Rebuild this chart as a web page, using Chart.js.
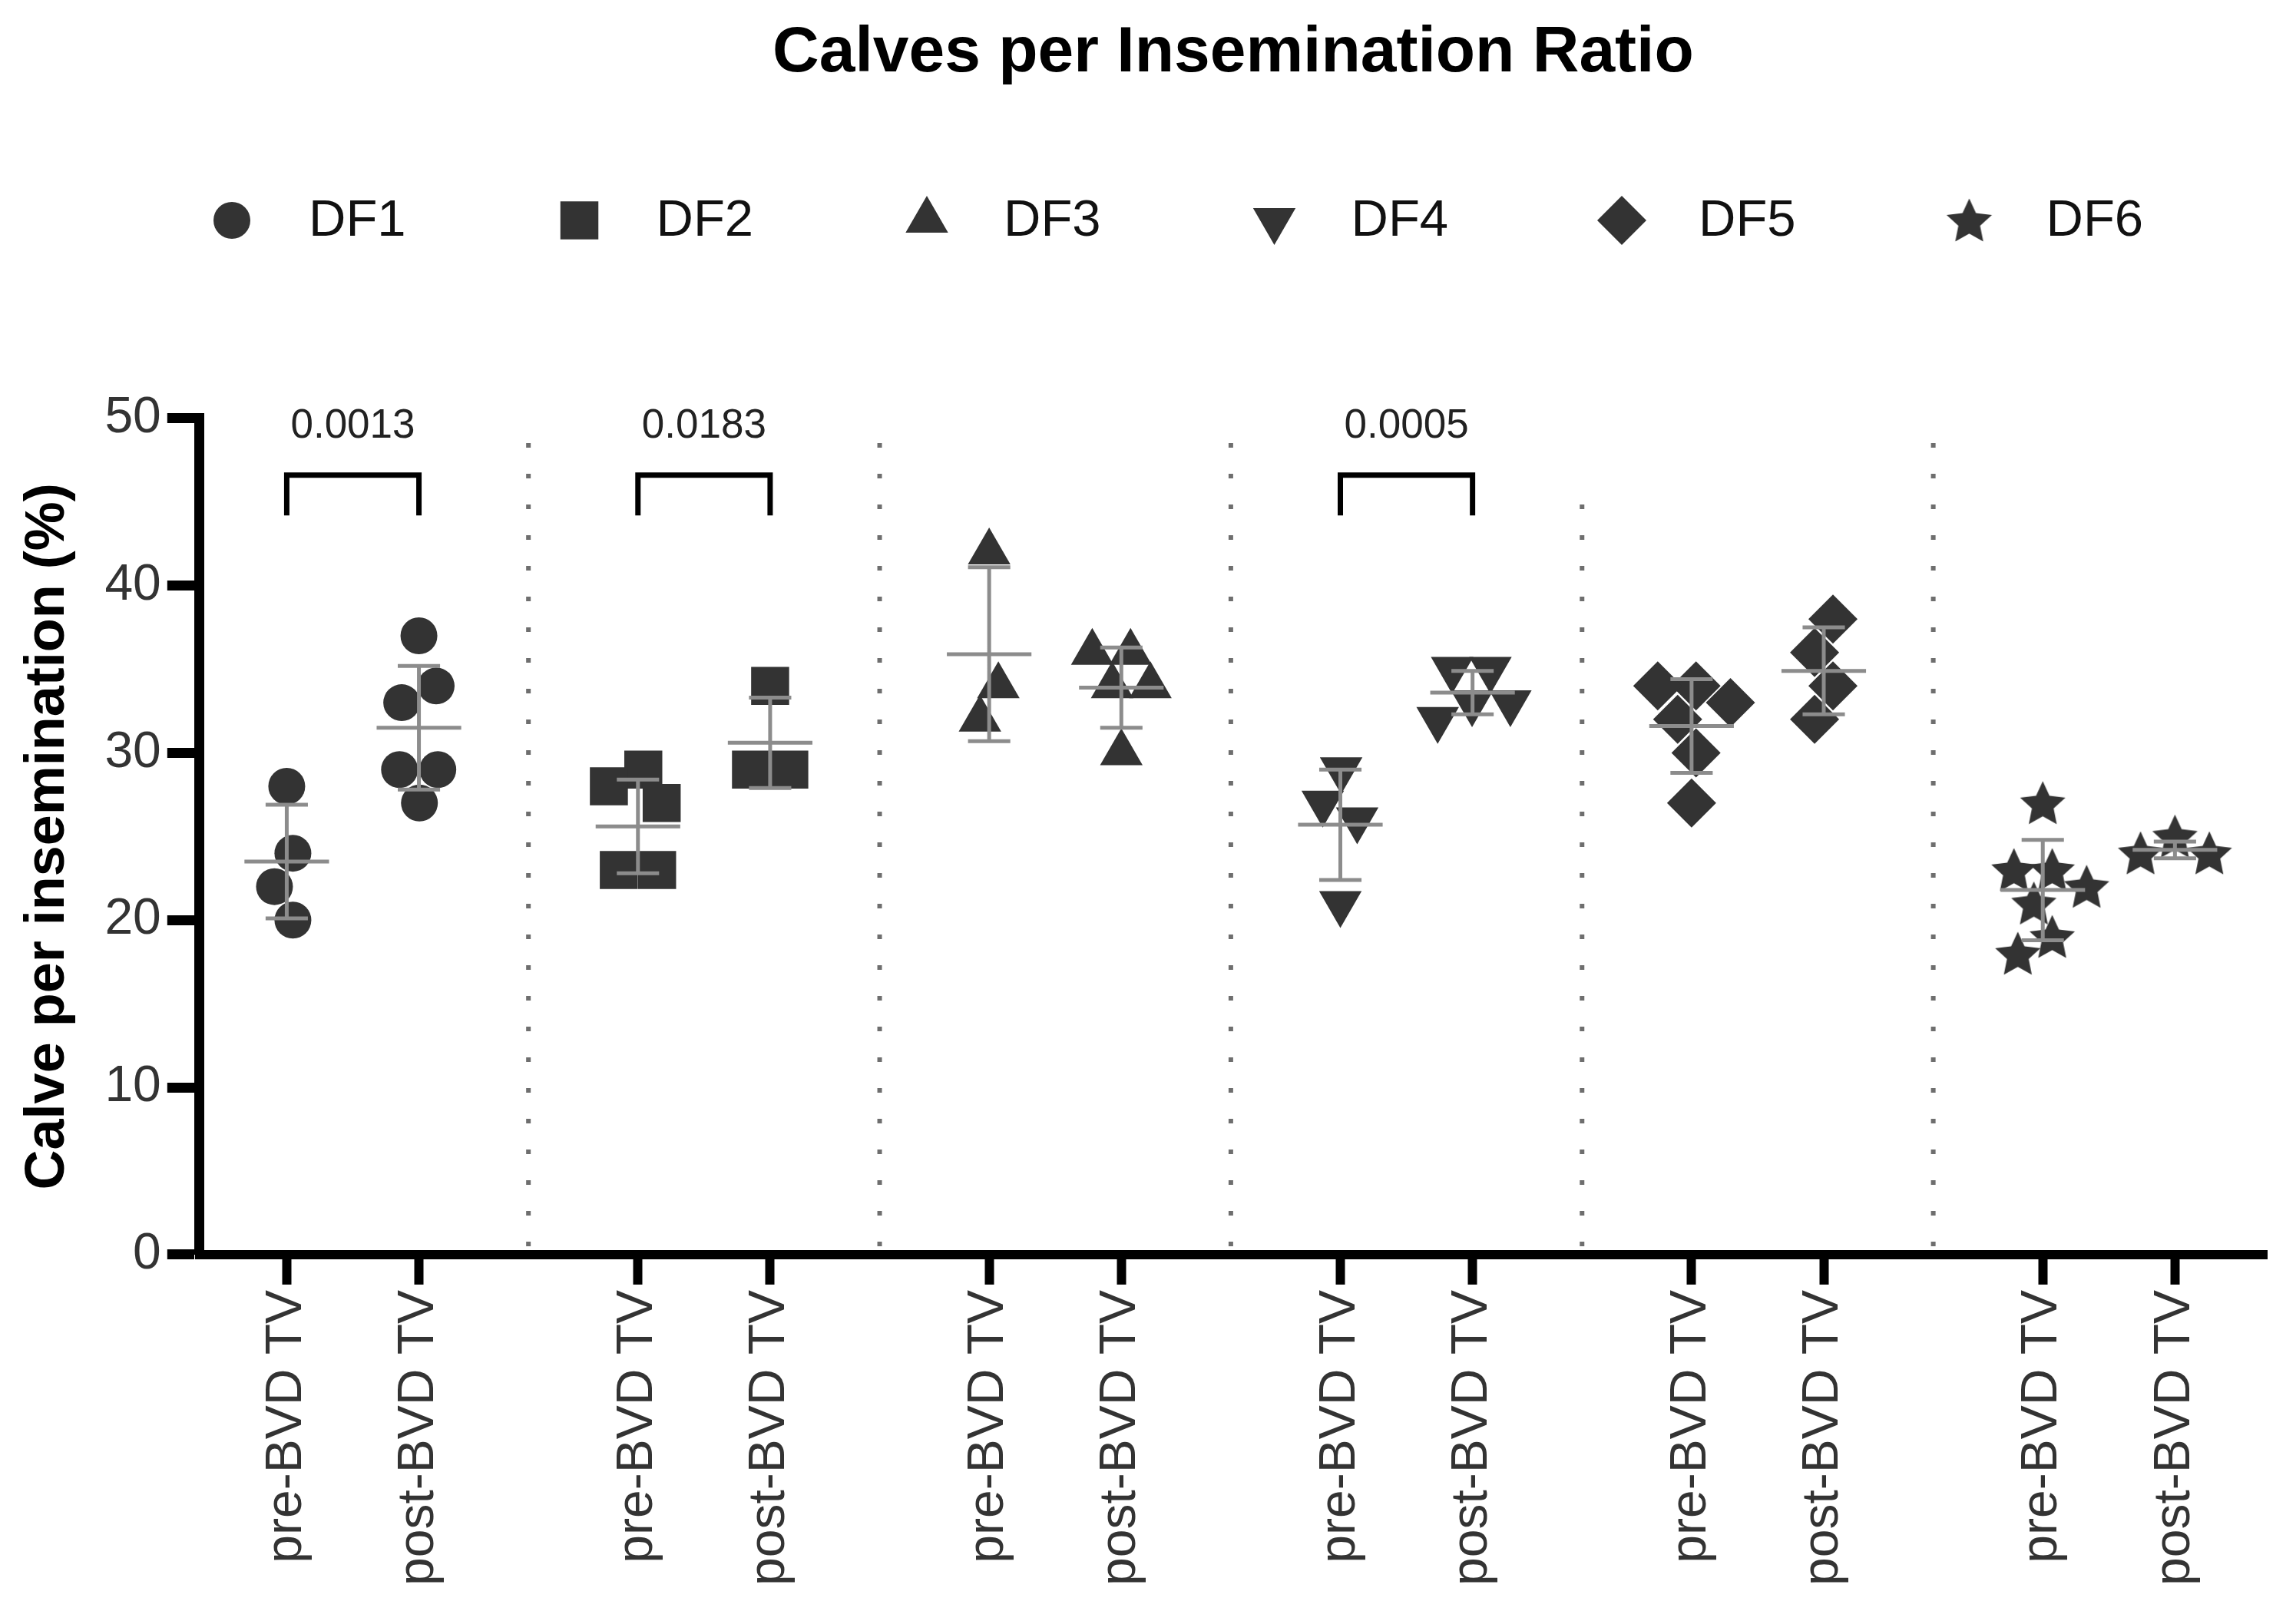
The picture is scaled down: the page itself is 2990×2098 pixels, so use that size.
<!DOCTYPE html>
<html>
<head>
<meta charset="utf-8">
<title>Calves per Insemination Ratio</title>
<script src="https://cdn.jsdelivr.net/npm/chart.js@4.4.1/dist/chart.umd.min.js"></script>
<style>
  html, body { margin: 0; padding: 0; background: #fff; }
  #wrap { width: 2990px; height: 2098px; }
</style>
</head>
<body>
<div id="wrap"><canvas id="chart"></canvas></div>
<script>
const farms = ["DF1", "DF2", "DF3", "DF4", "DF5", "DF6"];
const periods = ["pre-BVD TV", "post-BVD TV"];

// individual values (%)
const df1Pre = [28, 24, 22, 20];
const df1Post = [37, 34, 33, 29, 29, 27];
const df2Pre = [29, 28, 27, 23, 23];
const df2Post = [34, 29, 29];
const df3Pre = [42, 34, 32];
const df3Post = [36, 36, 34, 34, 30];
const df4Pre = [29, 27, 26, 21];
const df4Post = [35, 35, 33, 33, 32];
const df5Pre = [34, 34, 33, 32, 30, 27];
const df5Post = [38, 36, 34, 32];
const df6Pre = [27, 23, 23, 22, 21, 19, 18];
const df6Post = [25, 24, 24];

// mean and SD as drawn, one entry per farm
const meanPre = [23.5, 25.6, 35.9, 25.7, 31.6, 21.8];
const meanPost = [31.5, 30.6, 33.9, 33.6, 34.9, 24.2];
const sdPre = [3.4, 2.8, 5.2, 3.3, 2.8, 3.0];
const sdPost = [3.7, 2.7, 2.4, 1.3, 2.6, 0.5];

// significant pre/post comparisons
const pFarms = ["DF1", "DF2", "DF4"];
const pValues = ["0.0013", "0.0183", "0.0005"];

const yTicks = [0, 10, 20, 30, 40, 50];

const preValues = [df1Pre, df2Pre, df3Pre, df4Pre, df5Pre, df6Pre];
const postValues = [df1Post, df2Post, df3Post, df4Post, df5Post, df6Post];

// ---- layout / style ----
const FONT = '"Liberation Sans", Arial, Helvetica, sans-serif';
const MARK = '#333333';
const BAR = '#8c8c8c';
const GROUP_STEP = 2.657;          // distance between farm groups, in pre/post spacings
const X_MIN = -0.66, X_MAX = 14.98;
const PX_X = 172.6, PX_Y = 21.93;  // approx pixels per unit, only for swarm spacing
const SWARM_GAP = 50;
const MEAN_HALF = 0.32, CAP_HALF = 0.16;
const LEGEND_X0 = 302, LEGEND_STEP = 452.5, LEGEND_Y = 287;

Chart.defaults.font.family = FONT;

function makeStar(r) {
  const c = document.createElement('canvas');
  c.width = c.height = Math.ceil(r * 2) + 2;
  const g = c.getContext('2d');
  g.translate(c.width / 2, c.height / 2 + r * 0.08);
  g.beginPath();
  for (let i = 0; i < 10; i++) {
    const rr = i % 2 ? r * 0.48 : r;
    const a = -Math.PI / 2 + i * Math.PI / 5;
    g.lineTo(rr * Math.cos(a), rr * Math.sin(a));
  }
  g.closePath();
  g.fillStyle = MARK;
  g.fill();
  return c;
}

const shapes = ['circle', 'rect', 'triangle', 'triangle', 'rectRot', makeStar(31)];
const rotations = [0, 0, 0, 180, 0, 0];
const radii = [24, 35, 32, 32, 32, 31];

const tickX = (g, k) => g * GROUP_STEP + k;
const tickPositions = [];
const xLabels = [];
farms.forEach((f, g) => periods.forEach((p, k) => { tickPositions.push(tickX(g, k)); xLabels.push(p); }));

// simple beeswarm: horizontal offsets so markers do not sit on top of each other,
// then every cluster of touching markers is centred on its category
function swarm(values) {
  const placed = [];
  values.forEach(v => {
    const py = v * PX_Y;
    const cands = [0];
    placed.forEach(p => {
      const dy = Math.abs(p.y - py);
      if (dy < SWARM_GAP) {
        const dx = Math.sqrt(SWARM_GAP * SWARM_GAP - dy * dy);
        cands.push(p.x - dx, p.x + dx);
      }
    });
    const ok = cands.filter(c => placed.every(p => Math.hypot(p.x - c, p.y - py) >= SWARM_GAP - 0.01));
    ok.sort((a, b) => Math.abs(a) - Math.abs(b) || a - b);
    placed.push({ x: ok[0], y: py });
  });
  const parent = placed.map((p, i) => i);
  const find = i => (parent[i] === i ? i : (parent[i] = find(parent[i])));
  for (let i = 0; i < placed.length; i++) {
    for (let j = i + 1; j < placed.length; j++) {
      if (Math.hypot(placed[i].x - placed[j].x, placed[i].y - placed[j].y) < SWARM_GAP + 1) parent[find(i)] = find(j);
    }
  }
  const sums = {};
  placed.forEach((p, i) => {
    const r = find(i);
    sums[r] = sums[r] || { s: 0, c: 0 };
    sums[r].s += p.x;
    sums[r].c++;
  });
  return placed.map((p, i) => { const r = sums[find(i)]; return (p.x - r.s / r.c) / PX_X; });
}

const pointSets = farms.map((name, g) => {
  const pts = [];
  [preValues[g], postValues[g]].forEach((vals, k) => {
    const jit = swarm(vals);
    vals.forEach((v, i) => pts.push({ x: tickX(g, k) + jit[i], y: v }));
  });
  return {
    type: 'scatter',
    label: name,
    data: pts,
    order: 2,
    pointStyle: shapes[g],
    pointRotation: rotations[g],
    pointRadius: radii[g],
    pointHoverRadius: radii[g],
    pointBackgroundColor: MARK,
    pointBorderWidth: 0,
    showLine: false
  };
});

function seg(list, x1, y1, x2, y2) {
  list.push({ x: x1, y: y1 }, { x: x2, y: y2 }, { x: x2, y: null });
}

const barPts = [];
farms.forEach((f, g) => {
  [[meanPre[g], sdPre[g]], [meanPost[g], sdPost[g]]].forEach(([m, sd], k) => {
    const c = tickX(g, k);
    seg(barPts, c - MEAN_HALF, m, c + MEAN_HALF, m);
    seg(barPts, c, m - sd, c, m + sd);
    seg(barPts, c - CAP_HALF, m + sd, c + CAP_HALF, m + sd);
    seg(barPts, c - CAP_HALF, m - sd, c + CAP_HALF, m - sd);
  });
});

const sepPts = [];
for (let g = 0; g < farms.length - 1; g++) {
  const x = (tickX(g, 1) + tickX(g + 1, 0)) / 2;
  seg(sepPts, x, 0.5, x, g === 3 ? 46 : 49.5);
}

const bracketPts = [];
pFarms.forEach(f => {
  const g = farms.indexOf(f);
  const a = tickX(g, 0), b = tickX(g, 1);
  bracketPts.push({ x: a, y: 44.2 }, { x: a, y: 46.6 }, { x: b, y: 46.6 }, { x: b, y: 44.2 }, { x: b, y: null });
});

const lineBase = { type: 'line', pointRadius: 0, pointHoverRadius: 0, fill: false, tension: 0, spanGaps: false };

const datasets = [
  Object.assign({ label: 'mean ± SD', data: barPts, borderColor: BAR, borderWidth: 5, order: 0 }, lineBase),
  Object.assign({ label: 'brackets', data: bracketPts, borderColor: '#000', borderWidth: 7, borderJoinStyle: 'miter', order: 0 }, lineBase),
  Object.assign({ label: 'separators', data: sepPts, borderColor: '#6e6e6e', borderWidth: 6, borderDash: [6, 34], order: 3 }, lineBase)
].concat(pointSets);

const farmLegend = {
  id: 'farmLegend',
  afterDraw(chart) {
    const ctx = chart.ctx;
    ctx.save();
    ctx.font = '67px ' + FONT;
    ctx.textBaseline = 'middle';
    ctx.textAlign = 'left';
    farms.forEach((name, i) => {
      const x = LEGEND_X0 + i * LEGEND_STEP;
      ctx.fillStyle = MARK;
      Chart.helpers.drawPoint(ctx, { pointStyle: shapes[i], radius: radii[i], rotation: rotations[i], borderWidth: 0 }, x, LEGEND_Y);
      ctx.fillStyle = '#111';
      ctx.fillText(name, x + 100, LEGEND_Y + 2);
    });
    ctx.restore();
  }
};

const pLabels = {
  id: 'pLabels',
  afterDatasetsDraw(chart) {
    const ctx = chart.ctx;
    const xs = chart.scales.x, ys = chart.scales.y;
    ctx.save();
    ctx.font = '53px ' + FONT;
    ctx.fillStyle = '#222';
    ctx.textAlign = 'center';
    ctx.textBaseline = 'middle';
    pFarms.forEach((f, i) => {
      const g = farms.indexOf(f);
      ctx.fillText(pValues[i], xs.getPixelForValue((tickX(g, 0) + tickX(g, 1)) / 2), ys.getPixelForValue(49.5));
    });
    ctx.restore();
  }
};

new Chart(document.getElementById('chart'), {
  type: 'scatter',
  data: { datasets: datasets },
  plugins: [farmLegend, pLabels],
  options: {
    responsive: true,
    maintainAspectRatio: false,
    devicePixelRatio: 1,
    animation: false,
    events: [],
    layout: { padding: { left: 0, right: 38, top: 0, bottom: 26 } },
    plugins: {
      legend: { display: false },
      tooltip: { enabled: false },
      title: {
        display: true,
        text: 'Calves per Insemination Ratio',
        color: '#000',
        fullSize: false,
        font: { size: 84, weight: 'bold' },
        padding: { top: 19, bottom: 425 }
      }
    },
    scales: {
      x: {
        type: 'linear',
        min: X_MIN,
        max: X_MAX,
        afterBuildTicks: axis => { axis.ticks = tickPositions.map(v => ({ value: v })); },
        ticks: {
          callback: (v, i) => xLabels[i],
          autoSkip: false,
          minRotation: 90,
          maxRotation: 90,
          padding: 7,
          color: '#333',
          font: { size: 66 }
        },
        grid: { drawOnChartArea: false, drawTicks: true, tickLength: 39, tickWidth: 12, tickColor: '#000' },
        border: { display: true, width: 12, color: '#000' }
      },
      y: {
        min: 0,
        max: 50,
        afterBuildTicks: axis => { axis.ticks = yTicks.map(v => ({ value: v })); },
        ticks: { padding: 8, color: '#333', font: { size: 66 } },
        grid: { drawOnChartArea: false, drawTicks: true, tickLength: 42, tickWidth: 13, tickColor: '#000' },
        border: { display: true, width: 13, color: '#000' },
        title: {
          display: true,
          text: 'Calve per insemination (%)',
          color: '#000',
          font: { size: 72, weight: 'bold' },
          padding: { top: 20, bottom: 22 }
        }
      }
    }
  }
});
</script>
</body>
</html>
